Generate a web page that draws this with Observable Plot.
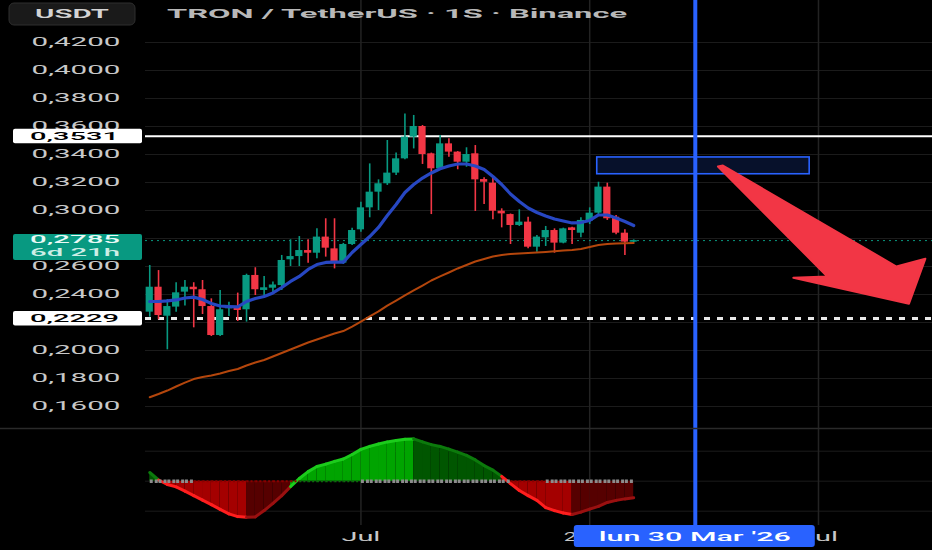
<!DOCTYPE html>
<html>
<head>
<meta charset="utf-8">
<script src="https://cdn.jsdelivr.net/npm/d3@7"></script>
<script src="https://cdn.jsdelivr.net/npm/@observablehq/plot@0.6"></script>
<style>
  html, body { margin: 0; padding: 0; background: #000; overflow: hidden; }
  #chart { width: 932px; height: 550px; }
  #chart svg { display: block; }
</style>
</head>
<body>
<div id="chart"></div>
<script>
// weekly TRX/USDT candles
const opens  = [0.2274,0.2452,0.2245,0.2310,0.2417,0.2452,0.2434,0.2314,0.2107,0.2298,0.2310,0.2291,0.2536,0.2429,0.2445,0.2464,0.2648,0.2671,0.2714,0.2695,0.2810,0.2726,0.2624,0.2757,0.2862,0.3019,0.3131,0.3191,0.3267,0.3369,0.3524,0.3600,0.3405,0.3298,0.3476,0.3417,0.3345,0.3405,0.3221,0.3195,0.2995,0.2971,0.2893,0.2917,0.2738,0.2805,0.2857,0.2767,0.2876,0.2838,0.2924,0.2981,0.3167,0.2952,0.2838,0.2774];
const highs  = [0.2607,0.2571,0.2364,0.2484,0.2500,0.2484,0.2500,0.2369,0.2429,0.2345,0.2410,0.2545,0.2591,0.2529,0.2490,0.2679,0.2791,0.2814,0.2791,0.2869,0.2941,0.2941,0.2765,0.2874,0.3059,0.3333,0.3219,0.3500,0.3410,0.3690,0.3679,0.3607,0.3410,0.3536,0.3512,0.3421,0.3448,0.3464,0.3234,0.3243,0.3012,0.2975,0.3005,0.2952,0.2821,0.2886,0.2869,0.2874,0.2880,0.2948,0.3019,0.3202,0.3195,0.2964,0.2862,0.2790];
const lows   = [0.2238,0.2219,0.2005,0.2274,0.2317,0.2162,0.2257,0.2100,0.2100,0.2243,0.2207,0.2203,0.2393,0.2381,0.2410,0.2429,0.2600,0.2600,0.2624,0.2655,0.2667,0.2583,0.2615,0.2750,0.2845,0.2948,0.3000,0.3179,0.3250,0.3362,0.3440,0.3329,0.2971,0.3291,0.3380,0.3291,0.3309,0.2993,0.3043,0.2934,0.2876,0.2757,0.2886,0.2726,0.2702,0.2743,0.2695,0.2762,0.2757,0.2805,0.2900,0.2964,0.2929,0.2826,0.2679,0.2770];
const closes = [0.2452,0.2250,0.2314,0.2412,0.2452,0.2434,0.2314,0.2107,0.2291,0.2314,0.2286,0.2536,0.2434,0.2448,0.2468,0.2643,0.2671,0.2714,0.2695,0.2810,0.2731,0.2624,0.2757,0.2857,0.3019,0.3131,0.3191,0.3267,0.3369,0.3524,0.3600,0.3400,0.3298,0.3476,0.3417,0.3345,0.3400,0.3219,0.3202,0.2995,0.2976,0.2893,0.2917,0.2738,0.2810,0.2857,0.2767,0.2869,0.2857,0.2929,0.2981,0.3167,0.2941,0.2838,0.2774,0.2785];

// moving averages (blue fast, brown slow)
const fastMA = [0.2350,0.2350,0.2354,0.2361,0.2375,0.2381,0.2364,0.2336,0.2318,0.2314,0.2311,0.2350,0.2371,0.2386,0.2411,0.2450,0.2493,0.2529,0.2579,0.2614,0.2629,0.2631,0.2631,0.2700,0.2757,0.2814,0.2879,0.2964,0.3043,0.3129,0.3186,0.3232,0.3268,0.3298,0.3318,0.3332,0.3332,0.3318,0.3293,0.3243,0.3186,0.3118,0.3064,0.3018,0.2986,0.2961,0.2939,0.2925,0.2911,0.2914,0.2929,0.2968,0.2968,0.2946,0.2921,0.2893];
const slowMA = [0.1666,0.1689,0.1714,0.1743,0.1771,0.1796,0.1811,0.1821,0.1836,0.1854,0.1868,0.1893,0.1914,0.1932,0.1957,0.1982,0.2007,0.2032,0.2057,0.2079,0.2100,0.2121,0.2139,0.2171,0.2207,0.2243,0.2279,0.2321,0.2357,0.2393,0.2429,0.2464,0.2500,0.2529,0.2557,0.2586,0.2611,0.2636,0.2654,0.2671,0.2682,0.2689,0.2693,0.2696,0.2700,0.2704,0.2709,0.2714,0.2718,0.2725,0.2739,0.2754,0.2761,0.2764,0.2766,0.2768];

// momentum oscillator (lower pane) and squeeze dots on its zero line
const oscValues = [0.0029,0.0004,-0.0011,-0.0019,-0.0033,-0.0048,-0.0063,-0.0078,-0.0094,-0.0109,-0.0118,-0.0120,-0.0119,-0.0098,-0.0074,-0.0048,-0.0018,0.0009,0.0032,0.0049,0.0057,0.0066,0.0074,0.0089,0.0106,0.0116,0.0124,0.0131,0.0136,0.0140,0.0141,0.0131,0.0122,0.0116,0.0107,0.0097,0.0086,0.0071,0.0052,0.0037,0.0016,-0.0008,-0.0031,-0.0048,-0.0064,-0.0088,-0.0098,-0.0106,-0.0111,-0.0103,-0.0093,-0.0084,-0.0071,-0.0064,-0.0059,-0.0055];
const squeezeOn = [1,1,1,1,1,0,0,0,0,0,0,0,0,0,0,0,0,0,0,0,0,0,0,0,1,1,1,1,1,1,1,1,1,1,1,1,1,1,1,1,1,0,0,0,0,1,1,1,1,1,1,1,1,1,1,1];

// y grid, y labels (0,2200 and 0,2800 sit under the price tags) and levels
const yGrid = [0.16,0.18,0.20,0.22,0.24,0.26,0.28,0.30,0.32,0.34,0.36,0.38,0.40,0.42];
const yLabels = [0.16,0.18,0.20,0.24,0.26,0.30,0.32,0.34,0.36,0.38,0.40,0.42];
const resistance = 0.3531;
const support = 0.2229;
const lastPrice = 0.2785;
const countdown = "6d 21h";

// time axis
const xTickDates = [new Date("2025-06-30"), new Date("2025-12-29"), new Date("2026-06-29")];
const xTickLabels = ["Jul", "2026", "Jul"];
const markerDate = new Date("2026-03-23");
const markerLabel = "lun 30 Mar '26";

// drawings
const zoneStart = new Date("2026-01-04"), zoneEnd = new Date("2026-06-22");
const zoneLow = 0.3259, zoneHigh = 0.3379;
const arrowDates = ["2026-04-10","2026-07-06","2026-06-09","2026-09-09","2026-09-22","2026-08-30","2026-04-14"];
const arrowPrices = [0.3314,0.2529,0.2519,0.2334,0.2655,0.2600,0.3321];

const title = "TRON / TetherUS \u00b7 1S \u00b7 Binance";
const FONT = "Roboto, 'DejaVu Sans', sans-serif";
const UP = "#089981", DOWN = "#f23645";
const DAY = 864e5;

const weeks = d3.utcMonday.range(new Date(Date.UTC(2025, 0, 13)), new Date(Date.UTC(2026, 1, 3)));
const candles = weeks.map((date, i) => ({
  date, open: opens[i], high: highs[i], low: lows[i], close: closes[i],
  fast: fastMA[i], slow: slowMA[i], color: closes[i] >= opens[i] ? UP : DOWN
}));
const arrow = arrowDates.map((d, i) => ({date: new Date(d), price: arrowPrices[i]}));
const xDomain = [new Date("2025-01-09T15:00Z"), new Date("2026-09-27T17:00Z")];
const fmt = v => v.toFixed(4).replace(".", ",");

const price = Plot.plot({
  width: 932, height: 428,
  marginLeft: 145, marginRight: 0, marginTop: 0, marginBottom: 0,
  style: {background: "#000", fontFamily: FONT, overflow: "visible"},
  x: {type: "utc", domain: xDomain, axis: null},
  y: {domain: [0.14429, 0.45], axis: null},
  marks: [
    Plot.ruleY(yGrid, {stroke: "#1b1b1b"}),
    Plot.ruleX(xTickDates, {stroke: "#232323", strokeWidth: 1.5}),
    Plot.axisY(yLabels, {tickSize: 0, tickPadding: 25, tickFormat: fmt, fill: "#c8c8c8", fontSize: 12}),
    Plot.rect([0], {x1: () => zoneStart, x2: () => zoneEnd, y1: () => zoneLow, y2: () => zoneHigh,
      fill: "#2962ff", fillOpacity: 0.17, stroke: "#2962ff", strokeWidth: 1.6}),
    Plot.ruleY([resistance], {stroke: "#ffffff", strokeWidth: 2}),
    Plot.ruleY([support], {stroke: "#e8e8e8", strokeWidth: 3, strokeDasharray: "6,7"}),
    Plot.ruleY([lastPrice], {stroke: UP, strokeWidth: 1, strokeDasharray: "2,4"}),
    Plot.ruleX(candles, {x: "date", y1: "low", y2: "high", stroke: "color", strokeWidth: 1.6}),
    Plot.rect(candles, {x1: d => new Date(+d.date - 3.5 * DAY), x2: d => new Date(+d.date + 3.5 * DAY),
      y1: "open", y2: "close", fill: "color", insetLeft: 0.8, insetRight: 0.8}),
    Plot.line(candles, {x: "date", y: "slow", stroke: "#b4460c", strokeWidth: 2}),
    Plot.line(candles, {x: "date", y: "fast", stroke: "#2747c2", strokeWidth: 3.2}),
    Plot.ruleX([markerDate], {stroke: "#2962ff", strokeWidth: 4}),
    Plot.line(arrow, {x: "date", y: "price", curve: "linear-closed", fill: "#f23645",
      stroke: "#f23645", strokeWidth: 2, strokeLinejoin: "round"})
  ]
});

// oscillator segments coloured by direction
const oscSegs = [];
for (let i = 1; i < weeks.length; i++) {
  const a = oscValues[i - 1], b = oscValues[i], up = b > a;
  const [fill, line] = b >= 0
    ? (up ? ["#00a400", "#1ccc1c"] : ["#005600", "#0c7a0c"])
    : (up ? ["#560000", "#9a1010"] : ["#a40000", "#ff1e1e"]);
  oscSegs.push({seg: i, date: weeks[i - 1], value: a, fill, line},
               {seg: i, date: weeks[i], value: b, fill, line});
}
const zeroSegs = d3.range(weeks.length - 1).map(i => ({
  x1: weeks[i], x2: weeks[i + 1], on: squeezeOn[i] === 1,
  color: squeezeOn[i] === 1 ? "#8c8c8c" : (oscValues[i] >= 0 ? "#0b6e0b" : "#8a0000")
}));
const tickLabel = new Map(xTickDates.map((d, i) => [+d, xTickLabels[i]]));

const osc = Plot.plot({
  width: 932, height: 122,
  marginLeft: 145, marginRight: 0, marginTop: 0, marginBottom: 25,
  style: {background: "#000", fontFamily: FONT, overflow: "visible"},
  x: {type: "utc", domain: xDomain, axis: null},
  y: {domain: [-0.01477, 0.01757], axis: null},
  marks: [
    Plot.ruleY([-0.01, 0, 0.01], {stroke: "#1b1b1b"}),
    Plot.ruleX(xTickDates, {stroke: "#232323", strokeWidth: 1.5}),
    Plot.area(oscSegs, {x1: "date", y1: () => 0, y2: "value", z: "seg", fill: "fill"}),
    Plot.line(oscSegs, {x: "date", y: "value", z: "seg", stroke: "line", strokeWidth: 3}),
    Plot.link(zeroSegs.filter(d => d.on), {x1: "x1", x2: "x2", y1: () => 0, y2: () => 0,
      stroke: "color", strokeWidth: 3.5, strokeDasharray: "3,2"}),
    Plot.link(zeroSegs.filter(d => !d.on), {x1: "x1", x2: "x2", y1: () => 0, y2: () => 0,
      stroke: "color", strokeWidth: 2, strokeDasharray: "2,2"}),
    Plot.ruleX([markerDate], {stroke: "#2962ff", strokeWidth: 4}),
    Plot.axisX(xTickDates, {tickSize: 0, tickPadding: 7, tickFormat: d => tickLabel.get(+d),
      fill: "#c8c8c8", fontSize: 12})
  ]
});

const chart = document.getElementById("chart");
chart.append(price, osc);

// stretch the labels the way the screenshot shows them
const s1 = d3.select(price), s2 = d3.select(osc);
s1.selectAll('g[aria-label="y-axis tick label"] text')
  .attr("textLength", 89).attr("lengthAdjust", "spacingAndGlyphs");
s2.selectAll('g[aria-label="x-axis tick label"] text')
  .each(function() {
    const t = this.textContent;
    d3.select(this).attr("textLength", t.length * 13).attr("lengthAdjust", "spacingAndGlyphs");
  });

const ys = price.scale("y"), xs = osc.scale("x");

function label(sel, x, y, text, len, color, size, weight, anchor) {
  sel.append("text").attr("x", x).attr("y", y).attr("dy", "0.35em")
    .attr("text-anchor", anchor || "end").attr("fill", color)
    .attr("font-family", FONT).attr("font-size", size).attr("font-weight", weight || 400)
    .attr("textLength", len).attr("lengthAdjust", "spacingAndGlyphs").text(text);
}

// header
s1.append("rect").attr("x", 9).attr("y", 3).attr("width", 126).attr("height", 22).attr("rx", 5)
  .attr("fill", "#1a1a1a").attr("stroke", "#2e2e2e");
label(s1, 72, 14, "USDT", 74, "#d4d4d4", 12, 600, "middle");
label(s1, 167, 14, title, 460, "#b8b8b8", 12.5, 700, "start");

// price tags
for (const v of [resistance, support]) {
  const y = ys.apply(v);
  s1.append("rect").attr("x", 13).attr("y", y - 7).attr("width", 129).attr("height", 14.5)
    .attr("rx", 2).attr("fill", "#ffffff");
  label(s1, 119, y + 0.5, fmt(v), 89, "#000", 11.5, 500);
}
{
  const y = ys.apply(lastPrice);
  s1.append("rect").attr("x", 13).attr("y", y - 6).attr("width", 129).attr("height", 26)
    .attr("rx", 2).attr("fill", UP);
  label(s1, 120, y - 0.5, fmt(lastPrice), 90, "#eafaf6", 10.5, 500);
  label(s1, 120, y + 12, countdown, 90, "#cdeee6", 10.5, 500);
}

// separator between panes
s2.append("line").attr("x1", 0).attr("x2", 932).attr("y1", 0.5).attr("y2", 0.5)
  .attr("stroke", "#2a2a2a").attr("stroke-width", 1.5);

// date tag under the vertical marker
{
  const x = xs.apply(markerDate);
  s2.append("rect").attr("x", x - 121).attr("y", 97).attr("width", 241).attr("height", 22)
    .attr("rx", 3).attr("fill", "#2962ff");
  label(s2, x, 108.5, markerLabel, 192, "#ffffff", 12, 500, "middle");
}
</script>
</body>
</html>
